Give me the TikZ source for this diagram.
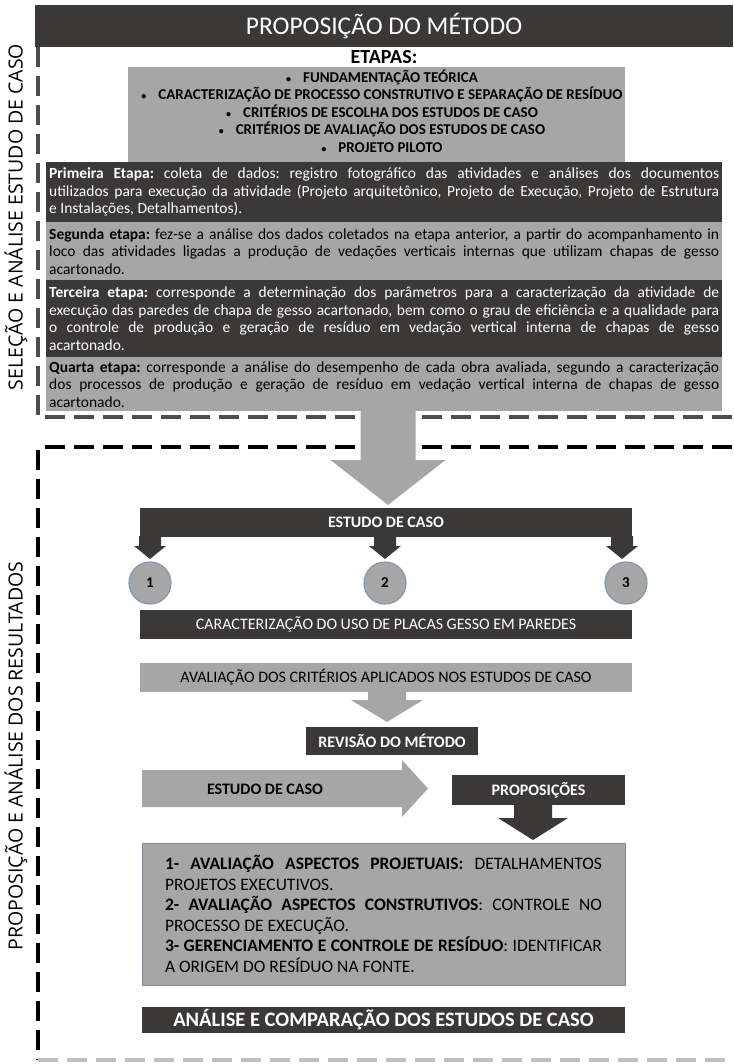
\documentclass[tikz,border=0pt]{standalone}
\usepackage{fontspec}
\setmainfont{Carlito}
\newfontfamily\sidefont{Open Sans}
\definecolor{boxdark}{HTML}{3B3838}
\definecolor{boxlight}{HTML}{A6A6A6}
\definecolor{ringline}{HTML}{8497B0}
\definecolor{frameline}{HTML}{7F8C9E}
\newcommand{\DownArrow}[7]{\fill[#1] (#2-#6,#3) -- (#2+#6,#3) -- (#2+#6,#4) -- (#2+#7,#4) -- (#2,#5) -- (#2-#7,#4) -- (#2-#6,#4) -- cycle;}
\newcommand{\dotitem}{{\fontsize{10}{10}\selectfont\textbullet}\hspace{0.8em}}
\hyphenpenalty=10000
\exhyphenpenalty=10000
\frenchspacing

\begin{document}
\begin{tikzpicture}[x=1pt,y=-1pt,
	darkbox/.style={fill=boxdark, text=white, inner sep=0pt},
	lightbox/.style={fill=boxlight, text=black, inner sep=0pt},
	stagetext/.style={anchor=north west, text width=670pt, align=justify, inner xsep=3pt, inner ysep=0pt, font=\fontsize{15.5}{17.5}\selectfont},
	barlabel/.style={minimum width=492pt, minimum height=29pt, font=\fontsize{16}{19}\selectfont},
	boldlabel/.style={font=\bfseries\fontsize{16}{19}\selectfont},
	casecircle/.style={circle, fill=boxlight, draw=ringline, line width=1.2pt, minimum size=42pt, inner sep=0pt, font=\bfseries\fontsize{15}{17}\selectfont},
	sidelabel/.style={rotate=90, font=\sidefont\fontsize{19.5}{22}\selectfont},
	cutline/.style={line width=4pt, dash pattern=on 20pt off 9pt}]
	
		\useasboundingbox (0,0) rectangle (733,1064);
		
		\draw[cutline, draw=boxdark!90] (38,47) -- (38,417) -- (733,417);
		\draw[cutline, draw=black] (45,447) -- (733,447);
		\draw[cutline, draw=black] (38,450) -- (38,1060);
		\draw[cutline, draw=black!25] (38,1060) -- (733,1060);
		
		\node[sidelabel] (side1) at (16,217) {SELEÇÃO E ANÁLISE ESTUDO DE CASO};
		\node[sidelabel] (side2) at (16,756) {PROPOSIÇÃO E ANÁLISE DOS RESULTADOS};
		
		\node[darkbox, minimum width=698pt, minimum height=42pt, font=\fontsize{25.5}{28}\selectfont] (title) at (384,26) {PROPOSIÇÃO DO MÉTODO};
		\node[font=\bfseries\fontsize{20}{22}\selectfont] (etapas) at (384,57) {ETAPAS:};
		
		\node[lightbox, minimum width=497pt, minimum height=95pt] (topics) at (376.5,114.5) {};
		\node[align=center, inner sep=0pt, font=\bfseries\fontsize{15}{17.5}\selectfont] (topiclist) at (382,111) {%
			\dotitem FUNDAMENTAÇÃO TEÓRICA\\
			\dotitem CARACTERIZAÇÃO DE PROCESSO CONSTRUTIVO E SEPARAÇÃO DE RESÍDUO\\
			\dotitem CRITÉRIOS DE ESCOLHA DOS ESTUDOS DE CASO\\
			\dotitem CRITÉRIOS DE AVALIAÇÃO DOS ESTUDOS DE CASO\\
			\dotitem PROJETO PILOTO};
		
		\node[darkbox, stagetext, minimum height=60pt] (stage1) at (46,162) {\textbf{Primeira Etapa:} coleta de dados: registro fotográfico das atividades e análises dos documentos\linebreak utilizados para execução da atividade (Projeto arquitetônico, Projeto de Execução, Projeto de Estrutura\linebreak e Instalações, Detalhamentos).};
		\node[lightbox, stagetext, minimum height=58pt] (stage2) at (46,222) {\textbf{Segunda etapa:} fez-se a análise dos dados coletados na etapa anterior, a partir do acompanhamento in\linebreak loco das atividades ligadas a produção de vedações verticais internas que utilizam chapas de gesso\linebreak acartonado.};
		\node[darkbox, stagetext, minimum height=77pt] (stage3) at (46,280) {\textbf{Terceira etapa:} corresponde a determinação dos parâmetros para a caracterização da atividade de\linebreak execução das paredes de chapa de gesso acartonado, bem como o grau de eficiência e a qualidade para\linebreak o controle de produção e geração de resíduo em vedação vertical interna de chapas de gesso\linebreak acartonado.};
		\node[lightbox, stagetext, minimum height=54pt] (stage4) at (46,357) {\textbf{Quarta etapa:} corresponde a análise do desempenho de cada obra avaliada, segundo a caracterização\linebreak dos processos de produção e geração de resíduo em vedação vertical interna de chapas de gesso\linebreak acartonado.};
		
		\DownArrow{boxlight}{388}{411}{460}{505}{27.5}{57.5}
		
		\node[darkbox, barlabel, boldlabel] (study) at (386,522.5) {ESTUDO DE CASO};
		\DownArrow{boxdark}{150}{536}{546}{559}{11}{16}
		\DownArrow{boxdark}{385}{536}{546}{559}{11}{16}
		\DownArrow{boxdark}{622}{536}{546}{559}{11}{16}
		
		\node[casecircle] (case1) at (150,583) {1};
		\node[casecircle] (case2) at (385,583) {2};
		\node[casecircle] (case3) at (626,583) {3};
		
		\node[darkbox, barlabel] (usage) at (386,624.5) {CARACTERIZAÇÃO DO USO DE PLACAS GESSO EM PAREDES};
		\node[lightbox, barlabel] (criteria) at (386,677.5) {AVALIAÇÃO DOS CRITÉRIOS APLICADOS NOS ESTUDOS DE CASO};
		\DownArrow{boxlight}{387}{692}{700}{722}{19}{36}
		
		\node[darkbox, boldlabel, minimum width=172pt, minimum height=28pt] (review) at (392,741) {REVISÃO DO MÉTODO};
		
		\fill[boxlight] (142,770) -- (402,770) -- (402,760) -- (428,788.5) -- (402,817) -- (402,807) -- (142,807) -- cycle;
		\node[boldlabel] (study2) at (265,789) {ESTUDO DE CASO};
		
		\node[darkbox, boldlabel, minimum width=173pt, minimum height=30pt] (proposals) at (538.5,790) {PROPOSIÇÕES};
		\DownArrow{boxdark}{533}{804}{818}{840}{19}{35}
		
		\node[fill=boxlight, draw=frameline, line width=1pt, minimum width=483pt, minimum height=142pt, text width=437pt, align=justify, inner sep=0pt, font=\fontsize{17.5}{20.5}\selectfont] (results) at (383.5,914) {%
			\textbf{1- AVALIAÇÃO ASPECTOS PROJETUAIS:} DETALHAMENTOS\linebreak PROJETOS EXECUTIVOS.\\
			\textbf{2- AVALIAÇÃO ASPECTOS CONSTRUTIVOS}: CONTROLE NO\linebreak PROCESSO DE EXECUÇÃO.\\
			\textbf{3- GERENCIAMENTO E CONTROLE DE RESÍDUO}: IDENTIFICAR\linebreak A ORIGEM DO RESÍDUO NA FONTE.};
		
		\node[darkbox, minimum width=483pt, minimum height=26pt, font=\bfseries\fontsize{20.5}{22}\selectfont] (compare) at (383.5,1020) {ANÁLISE E COMPARAÇÃO DOS ESTUDOS DE CASO};
		
\end{tikzpicture}
\end{document}
